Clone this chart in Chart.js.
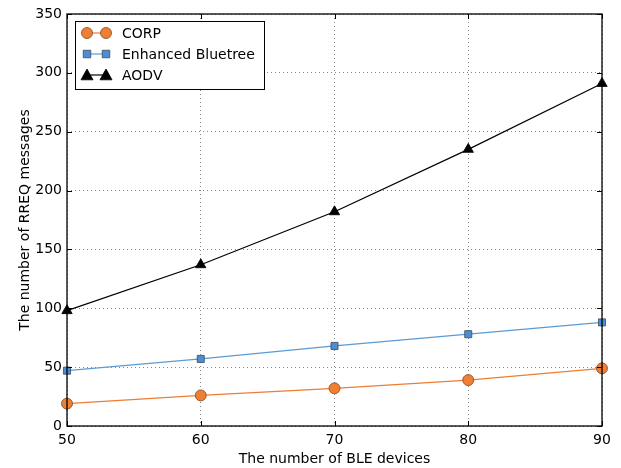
<!DOCTYPE html>
<html>
<head>
<meta charset="utf-8">
<script src="https://cdn.jsdelivr.net/npm/chart.js@4"></script>
<style>
  html, body { margin: 0; padding: 0; background: #fff; }
  #wrap { width: 621px; height: 468px; }
</style>
</head>
<body>
<div id="wrap"><canvas id="chart" width="621" height="468"></canvas></div>
<script>
// donnees
const devices = [50, 60, 70, 80, 90];
const corp = [19, 26, 32, 39, 49];
const bluetree = [47, 57, 68, 78, 88];
const aodv = [98, 137, 182, 235, 291];
const yTicks = [0, 50, 100, 150, 200, 250, 300, 350];

const FONT = 'DejaVu Sans';

const series = [
  { label: 'CORP', data: corp, color: '#ee7d31', fill: '#f07f33', edge: '#7a4a2a', style: 'circle', r: 5.5 },
  { label: 'Enhanced Bluetree', data: bluetree, color: '#5b9bd5', fill: '#4a8fd6', edge: '#3c4a5c', style: 'rect', r: 5 },
  { label: 'AODV', data: aodv, color: '#000000', fill: '#000000', edge: '#000000', style: 'triangle', r: 6 }
];

// cadre + graduations vers l'interieur (style matplotlib classique)
const framePlugin = {
  id: 'frame',
  afterDraw(chart) {
    const { ctx, chartArea: a, scales } = chart;
    ctx.save();
    ctx.strokeStyle = '#000';
    ctx.lineWidth = 1;
    const len = 5;
    ctx.beginPath();
    devices.forEach(v => {
      const x = Math.round(scales.x.getPixelForValue(v)) + 0.5;
      ctx.moveTo(x, a.bottom); ctx.lineTo(x, a.bottom - len);
      ctx.moveTo(x, a.top); ctx.lineTo(x, a.top + len);
    });
    yTicks.forEach(v => {
      const y = Math.round(scales.y.getPixelForValue(v)) + 0.5;
      ctx.moveTo(a.left, y); ctx.lineTo(a.left + len, y);
      ctx.moveTo(a.right, y); ctx.lineTo(a.right - len, y);
    });
    ctx.stroke();
    ctx.lineWidth = 1.3;
    ctx.strokeRect(a.left, a.top, a.right - a.left, a.bottom - a.top);
    ctx.restore();
  }
};

function drawMarker(ctx, s, x, y) {
  ctx.fillStyle = s.fill;
  ctx.strokeStyle = s.edge;
  ctx.lineWidth = 0.8;
  ctx.beginPath();
  if (s.style === 'circle') {
    ctx.arc(x, y, s.r, 0, Math.PI * 2);
  } else if (s.style === 'rect') {
    ctx.rect(x - s.r * 0.75, y - s.r * 0.75, s.r * 1.5, s.r * 1.5);
  } else {
    ctx.moveTo(x, y - s.r);
    ctx.lineTo(x + s.r, y + s.r * 0.8);
    ctx.lineTo(x - s.r, y + s.r * 0.8);
    ctx.closePath();
  }
  ctx.fill();
  ctx.stroke();
}

// legende dessinee a la main (ligne + 2 marqueurs)
const legendPlugin = {
  id: 'boxLegend',
  afterDraw(chart) {
    const { ctx, chartArea: a } = chart;
    const bx = a.left + 8, by = a.top + 7, bw = 189, bh = 68;
    ctx.save();
    ctx.fillStyle = '#fff';
    ctx.fillRect(bx, by, bw, bh);
    ctx.strokeStyle = '#000';
    ctx.lineWidth = 1;
    ctx.strokeRect(bx + 0.5, by + 0.5, bw, bh);
    series.forEach((s, i) => {
      const y = by + 12 + i * 21;
      ctx.strokeStyle = s.color;
      ctx.lineWidth = 1.2;
      ctx.beginPath();
      ctx.moveTo(bx + 12, y); ctx.lineTo(bx + 31, y);
      ctx.stroke();
      drawMarker(ctx, s, bx + 12, y);
      drawMarker(ctx, s, bx + 31, y);
      ctx.fillStyle = '#000';
      ctx.font = '14px "' + FONT + '"';
      ctx.textBaseline = 'middle';
      ctx.fillText(s.label, bx + 47, y + 1);
    });
    ctx.restore();
  }
};

new Chart(document.getElementById('chart'), {
  type: 'line',
  data: {
    datasets: series.map(s => ({
      label: s.label,
      data: devices.map((d, i) => ({ x: d, y: s.data[i] })),
      borderColor: s.color,
      borderWidth: 1.2,
      backgroundColor: s.fill,
      pointBackgroundColor: s.fill,
      pointBorderColor: s.edge,
      pointBorderWidth: 0.8,
      pointStyle: s.style,
      pointRadius: s.r,
      tension: 0,
      clip: false
    }))
  },
  options: {
    responsive: false,
    animation: false,
    layout: { padding: { top: 14, right: 19, left: 0, bottom: 0 } },
    plugins: { legend: { display: false }, tooltip: { enabled: false } },
    scales: {
      x: {
        type: 'linear',
        min: 50, max: 90,
        afterFit(scale) { scale.height = 42; },
        ticks: { stepSize: 10, color: '#000', padding: 6, font: { family: FONT, size: 14 } },
        grid: { color: 'rgba(0,0,0,0.6)', lineWidth: 0.8, drawTicks: false, tickLength: 0 },
        border: { display: false, dash: [1, 3] },
        title: { display: true, text: 'The number of BLE devices', color: '#000', padding: { top: 1, bottom: 0 }, font: { family: FONT, size: 14 } }
      },
      y: {
        min: 0, max: 350,
        afterFit(scale) { scale.width = 67; },
        afterBuildTicks(scale) { scale.ticks = yTicks.map(v => ({ value: v })); },
        ticks: { color: '#000', padding: 5, font: { family: FONT, size: 14 } },
        grid: { color: 'rgba(0,0,0,0.6)', lineWidth: 0.8, drawTicks: false, tickLength: 0 },
        border: { display: false, dash: [1, 3] },
        title: { display: true, text: 'The number of RREQ messages', color: '#000', padding: { top: 17, bottom: 0 }, font: { family: FONT, size: 14 } }
      }
    }
  },
  plugins: [framePlugin, legendPlugin]
});
</script>
</body>
</html>
